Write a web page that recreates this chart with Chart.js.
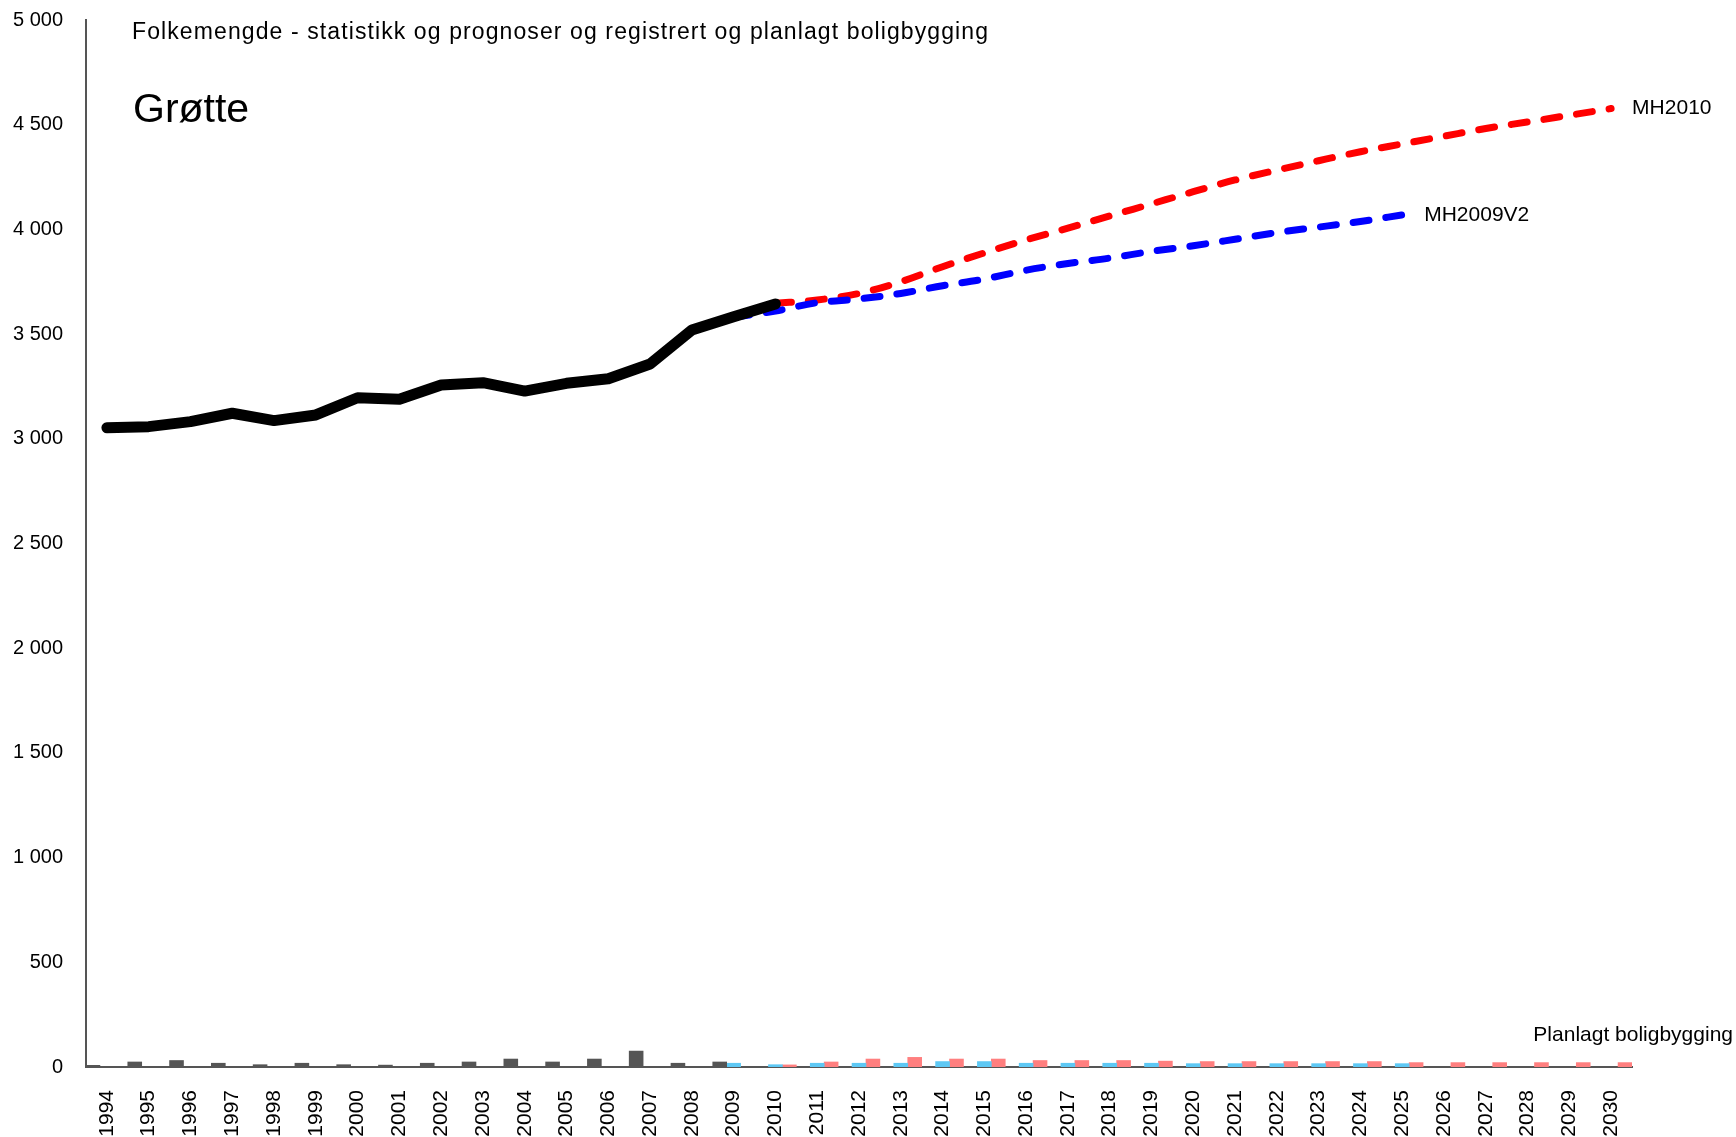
<!DOCTYPE html>
<html>
<head>
<meta charset="utf-8">
<title>Grøtte</title>
<script src="https://cdn.jsdelivr.net/npm/chart.js@4.4.1/dist/chart.umd.min.js"></script>
<style>
  html, body { margin: 0; padding: 0; background: #fff; }
  #wrap { width: 1736px; height: 1137px; position: relative; }
</style>
</head>
<body>
<div id="wrap"><canvas id="myChart"></canvas></div>
<script>
// years on the x axis
const years = ["1994","1995","1996","1997","1998","1999","2000","2001","2002","2003","2004","2005",
  "2006","2007","2008","2009","2010","2011","2012","2013","2014","2015","2016","2017","2018","2019",
  "2020","2021","2022","2023","2024","2025","2026","2027","2028","2029","2030"];

// population statistics (black line)
const population = [3053,3058,3082,3122,3087,3114,3196,3189,3257,3268,3228,3265,3287,3357,3520,3583,3644,
  null,null,null,null,null,null,null,null,null,null,null,null,null,null,null,null,null,null,null,null];

// forecast MH2010 (red dashed)
const mh2010 = [null,null,null,null,null,null,null,null,null,null,null,null,null,null,null,null,
  3647,3663,3694,3750,3822,3888,3950,4006,4064,4122,4180,4236,4283,4328,4371,4408,4445,4482,4513,4545,4577];

// forecast MH2009V2 (blue dashed)
const mh2009v2 = [null,null,null,null,null,null,null,null,null,null,null,null,null,null,null,
  3580,3610,3650,3668,3694,3731,3763,3805,3837,3863,3895,3922,3953,3985,4011,4038,4069,
  null,null,null,null,null];

// registered housing construction (dark grey bars)
const registered = [8,24,31,18,11,18,11,9,18,24,38,24,38,76,18,24,
  null,null,null,null,null,null,null,null,null,null,null,null,null,null,null,null,null,null,null,null,null];

// planned housing construction, MH2009V2 (light blue bars)
const plannedBlue = [null,null,null,null,null,null,null,null,null,null,null,null,null,null,null,
  18,11,18,18,18,26,26,18,18,18,18,16,16,16,16,16,16,null,null,null,null,null];

// planned housing construction, MH2010 (pink bars)
const plannedRed = [null,null,null,null,null,null,null,null,null,null,null,null,null,null,null,null,
  10,24,38,46,38,38,31,31,31,28,26,26,26,26,26,21,21,21,21,21,21];

const yTicks = [0,500,1000,1500,2000,2500,3000,3500,4000,4500,5000];

const FONT = "'Liberation Sans', Arial, sans-serif";

function fmt(v) {
  return String(v).replace(/\B(?=(\d{3})+(?!\d))/g, " ");
}

// draws the title texts and the series end labels
const labelPlugin = {
  id: "labels",
  afterDatasetsDraw(chart) {
    const ctx = chart.ctx;
    ctx.save();
    ctx.fillStyle = "#000";
    ctx.textBaseline = "middle";
    ctx.textAlign = "left";

    ctx.font = "23px " + FONT;
    ctx.letterSpacing = "1.1px";
    ctx.fillText("Folkemengde - statistikk og prognoser og registrert og planlagt boligbygging", 132, 33);
    ctx.letterSpacing = "0px";
    ctx.font = "41px " + FONT;
    ctx.fillText("Grøtte", 133, 111);

    ctx.font = "21px " + FONT;
    const redMeta = chart.getDatasetMeta(1);
    const redPt = redMeta.data[mh2010.length - 1];
    ctx.fillText("MH2010", redPt.x + 21, redPt.y);

    const blueMeta = chart.getDatasetMeta(2);
    const blueIdx = mh2009v2.map(v => v !== null).lastIndexOf(true);
    const bluePt = blueMeta.data[blueIdx];
    ctx.fillText("MH2009V2", bluePt.x + 22, bluePt.y);

    ctx.textAlign = "right";
    ctx.fillText("Planlagt boligbygging", chart.width - 3, 1035);
    ctx.restore();
  }
};

const ctx = document.getElementById("myChart").getContext("2d");
const chart = new Chart(ctx, {
  type: "bar",
  data: {
    labels: years,
    datasets: [
      {
        type: "line", label: "Statistikk", data: population, order: 0,
        borderColor: "#000", borderWidth: 11, borderCapStyle: "round", borderJoinStyle: "round",
        pointRadius: 0, tension: 0, spanGaps: false
      },
      {
        type: "line", label: "MH2010", data: mh2010, order: 2,
        borderColor: "#ff0000", borderWidth: 7, borderDash: [16, 17], borderCapStyle: "round",
        pointRadius: 0, cubicInterpolationMode: "monotone"
      },
      {
        type: "line", label: "MH2009V2", data: mh2009v2, order: 1,
        borderColor: "#0000ff", borderWidth: 7, borderDash: [16, 17], borderCapStyle: "round",
        pointRadius: 0, cubicInterpolationMode: "monotone"
      },
      {
        label: "Registrert", data: registered, order: 5,
        backgroundColor: "#555555", categoryPercentage: 1, barPercentage: 1
      },
      {
        label: "Planlagt MH2009V2", data: plannedBlue, order: 5,
        backgroundColor: "#5ec8f4", categoryPercentage: 1, barPercentage: 1
      },
      {
        label: "Planlagt MH2010", data: plannedRed, order: 5,
        backgroundColor: "#ff7f7f", categoryPercentage: 1, barPercentage: 1
      }
    ]
  },
  options: {
    responsive: true,
    maintainAspectRatio: false,
    animation: false,
    layout: { padding: { top: 20, right: 104, left: 0, bottom: 0 } },
    plugins: {
      legend: { display: false },
      tooltip: { enabled: false }
    },
    scales: {
      x: {
        grid: { display: false, drawTicks: false },
        border: { display: true, color: "#555", width: 2 },
        ticks: {
          color: "#000", font: { family: FONT, size: 21 },
          minRotation: 90, maxRotation: 90, padding: 23, autoSkip: false
        },
        afterFit(scale) { scale.height = 70; scale.paddingLeft = 0; scale.paddingRight = 0; }
      },
      y: {
        min: 0, max: 5000,
        afterBuildTicks(scale) { scale.ticks = yTicks.map(v => ({ value: v })); },
        grid: { display: false, drawTicks: false },
        border: { display: true, color: "#555", width: 2 },
        ticks: {
          color: "#000", font: { family: FONT, size: 20 }, padding: 23,
          callback: v => fmt(v)
        },
        afterFit(scale) { scale.width = 86; scale.paddingTop = 0; scale.paddingBottom = 0; }
      }
    }
  },
  plugins: [labelPlugin]
});
</script>
</body>
</html>
